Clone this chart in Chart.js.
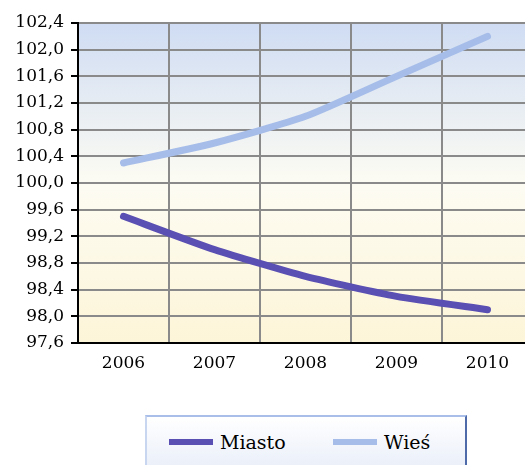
<!DOCTYPE html>
<html>
<head>
<meta charset="utf-8">
<script src="https://cdn.jsdelivr.net/npm/chart.js@4/dist/chart.umd.min.js"></script>
<style>
  body { margin: 0; width: 525px; height: 465px; overflow: hidden; background: #fff; position: relative; }
  #wrap { position: absolute; left: 0; top: 0; width: 540px; height: 465px; }
  #legend {
    position: absolute; left: 145px; top: 415px; width: 318px; height: 60px;
    border-top: 2px solid #a9bfe9; border-left: 2px solid #c9d6f0; border-right: 2px solid #4f6aa8;
    background: linear-gradient(to bottom, #ffffff, #e6ecf8);
    font-family: "DejaVu Serif", serif; font-size: 19px; color: #000;
  }
  .item { position: absolute; top: 14px; display: flex; align-items: center; }
  .swatch { width: 44px; height: 6px; margin-right: 7px; }
</style>
</head>
<body>
<div id="wrap"><canvas id="myChart" width="540" height="465"></canvas></div>
<div id="legend"></div>
<script>
// data
const years = ["2006", "2007", "2008", "2009", "2010"];
const miasto = [99.5, 99.0, 98.6, 98.3, 98.1];
const wies = [100.3, 100.6, 101.0, 101.6, 102.2];
const seriesNames = ["Miasto", "Wieś"];
const seriesColors = ["#5a4fb2", "#a6bde9"];

// plot background: blue on top fading to pale yellow
const plotBg = {
  id: "plotBg",
  beforeDraw(chart) {
    const { ctx, chartArea: a } = chart;
    const g = ctx.createLinearGradient(0, a.top, 0, a.bottom);
    g.addColorStop(0, "#cfdcf3");
    g.addColorStop(0.5, "#fdfcf3");
    g.addColorStop(1, "#fdf5d8");
    ctx.save();
    ctx.fillStyle = g;
    ctx.fillRect(a.left, a.top, a.right - a.left, a.bottom - a.top);
    ctx.restore();
  },
};

const font = { family: "'DejaVu Serif', serif", size: 17 };

new Chart(document.getElementById("myChart"), {
  type: "line",
  data: {
    labels: years,
    datasets: [
      { label: seriesNames[0], data: miasto, borderColor: seriesColors[0], backgroundColor: seriesColors[0] },
      { label: seriesNames[1], data: wies, borderColor: seriesColors[1], backgroundColor: seriesColors[1] },
    ],
  },
  options: {
    animation: false,
    responsive: false,
    layout: { padding: { top: 23, right: 7, left: 0, bottom: 0 } },
    elements: {
      line: { borderWidth: 7, tension: 0.2, borderCapStyle: "round" },
      point: { radius: 0 },
    },
    plugins: { legend: { display: false }, tooltip: { enabled: false } },
    scales: {
      x: {
        offset: true,
        grid: { offset: true, color: "#8a8a8a", lineWidth: 2, drawTicks: false },
        border: { color: "#000", width: 2 },
        ticks: { color: "#000", font: font, padding: 10 },
        afterFit(s) { s.height = 122; },
      },
      y: {
        min: 97.6,
        max: 102.4,
        grid: { color: "#8a8a8a", lineWidth: 2, tickColor: "#000", tickLength: 7 },
        border: { color: "#000", width: 2 },
        ticks: {
          stepSize: 0.4,
          autoSkip: false,
          color: "#000",
          font: font,
          padding: 7,
          callback: (v) => v.toFixed(1).replace(".", ","),
        },
        afterFit(s) { s.width = 78; },
      },
    },
  },
  plugins: [plotBg],
});

// legend box under the chart
const legend = document.getElementById("legend");
const lefts = [22, 186];
seriesNames.forEach((name, i) => {
  const item = document.createElement("div");
  item.className = "item";
  item.style.left = lefts[i] + "px";
  item.innerHTML = `<span class="swatch" style="background:${seriesColors[i]}"></span><span>${name}</span>`;
  legend.append(item);
});
</script>
</body>
</html>
